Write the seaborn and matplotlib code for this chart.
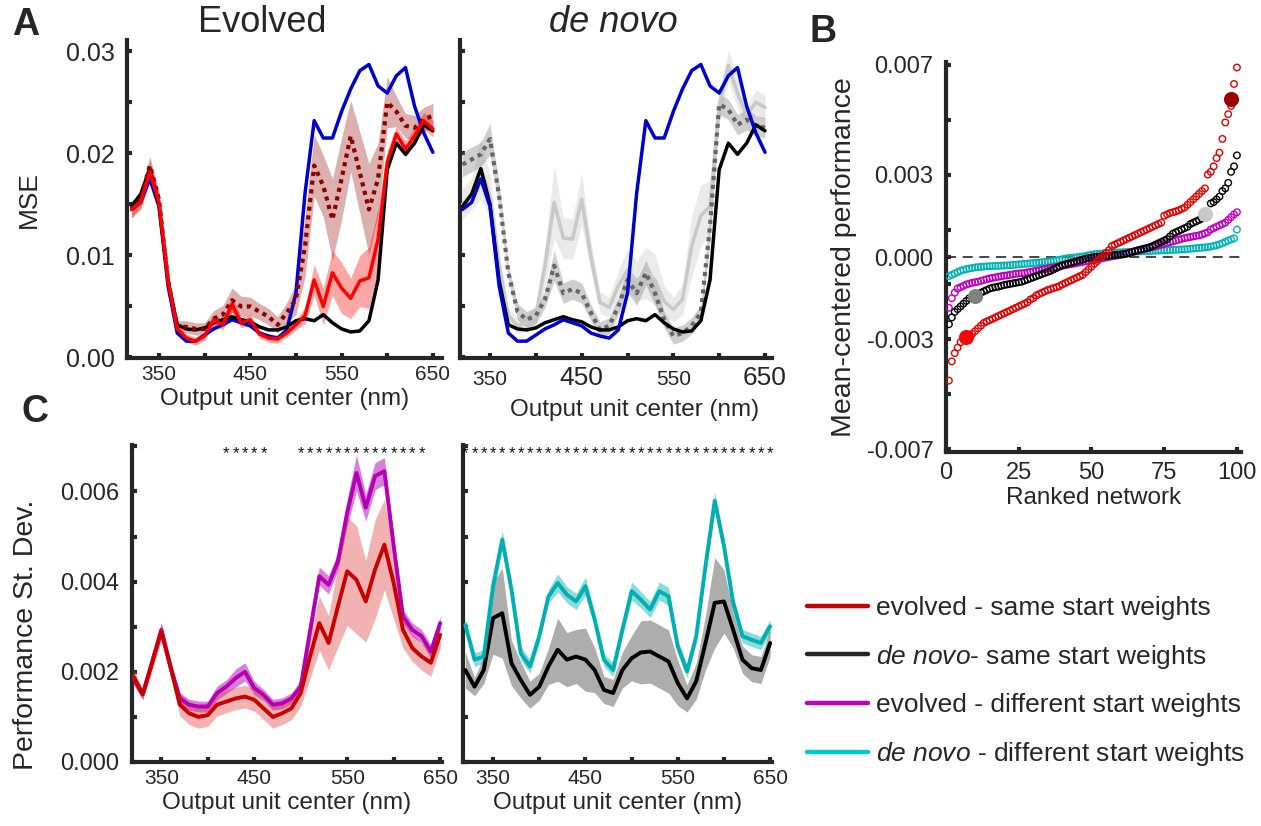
import numpy as np
import pandas as pd
import matplotlib
matplotlib.use("Agg")
import matplotlib.pyplot as plt
from matplotlib.lines import Line2D
import seaborn as sns

sns.set_theme(style="ticks")
plt.rcParams['font.family'] = ['Liberation Sans', 'DejaVu Sans']
plt.rcParams['mathtext.fontset'] = 'custom'
plt.rcParams['mathtext.rm'] = 'Liberation Sans'
plt.rcParams['mathtext.it'] = 'Liberation Sans:italic'

# ---------------- data ----------------
wl = np.arange(320, 651, 10)

# Panel A (MSE)
blue_mse = [0.0145, 0.0152, 0.0175, 0.0148, 0.0070, 0.0024, 0.0016, 0.0016, 0.0022, 0.0028,
            0.0032, 0.0037, 0.0034, 0.0031, 0.0024, 0.0021, 0.0019, 0.0027, 0.0063, 0.0161,
            0.0232, 0.0215, 0.0215, 0.0241, 0.0263, 0.0281, 0.0287, 0.0266, 0.0259, 0.0276,
            0.0284, 0.0246, 0.0220, 0.0201]
black_mse = [0.0148, 0.0160, 0.0185, 0.0150, 0.0075, 0.0032, 0.0028, 0.0027, 0.0029, 0.0034,
             0.0037, 0.0040, 0.0037, 0.0035, 0.0030, 0.0027, 0.0027, 0.0030, 0.0036, 0.0038,
             0.0036, 0.0042, 0.0034, 0.0028, 0.0025, 0.0026, 0.0036, 0.0076, 0.0184, 0.0210,
             0.0199, 0.0210, 0.0228, 0.0222]
evo_low = [0.0145, 0.0152, 0.0182, 0.0152, 0.0075, 0.0028, 0.0019, 0.0016, 0.0021, 0.0037,
           0.0032, 0.0052, 0.0034, 0.0037, 0.0023, 0.0019, 0.0018, 0.0024, 0.0032, 0.0041,
           0.0076, 0.0050, 0.0083, 0.0068, 0.0058, 0.0075, 0.0078, 0.0116, 0.0191, 0.0219,
           0.0204, 0.0217, 0.0232, 0.0224]
evo_low_err = [0.0008, 0.0007, 0.0010, 0.0008, 0.0005, 0.0004, 0.0004, 0.0004, 0.0004, 0.0005,
               0.0005, 0.0008, 0.0005, 0.0005, 0.0004, 0.0004, 0.0004, 0.0004, 0.0005, 0.0008,
               0.0015, 0.0018, 0.0022, 0.0025, 0.0020, 0.0025, 0.0030, 0.0030, 0.0012, 0.0007,
               0.0008, 0.0008, 0.0008, 0.0008]
evo_high = [0.0145, 0.0155, 0.0188, 0.0155, 0.0075, 0.0030, 0.0030, 0.0028, 0.0028, 0.0038,
            0.0042, 0.0056, 0.0050, 0.0050, 0.0045, 0.0040, 0.0032, 0.0044, 0.0057, 0.0109,
            0.0188, 0.0168, 0.0135, 0.0175, 0.0217, 0.0181, 0.0145, 0.0175, 0.0250, 0.0241,
            0.0227, 0.0225, 0.0233, 0.0237]
evo_high_err = [0.0008, 0.0008, 0.0009, 0.0008, 0.0005, 0.0006, 0.0006, 0.0006, 0.0006, 0.0008,
                0.0009, 0.0012, 0.0010, 0.0009, 0.0008, 0.0008, 0.0008, 0.0010, 0.0015, 0.0030,
                0.0030, 0.0030, 0.0040, 0.0040, 0.0035, 0.0040, 0.0045, 0.0035, 0.0025, 0.0015,
                0.0012, 0.0012, 0.0012, 0.0012]
dn_high = [0.0150, 0.0160, 0.0185, 0.0158, 0.0090, 0.0041, 0.0031, 0.0034, 0.0041, 0.0090,
           0.0152, 0.0117, 0.0116, 0.0155, 0.0099, 0.0054, 0.0049, 0.0070, 0.0086, 0.0075,
           0.0083, 0.0076, 0.0055, 0.0047, 0.0057, 0.0109, 0.0139, 0.0148, 0.0246, 0.0286,
           0.0259, 0.0237, 0.0250, 0.0245]
dn_high_err = [0.0015, 0.0015, 0.0030, 0.0020, 0.0015, 0.0008, 0.0008, 0.0008, 0.0010, 0.0020,
               0.0035, 0.0020, 0.0020, 0.0025, 0.0015, 0.0010, 0.0010, 0.0015, 0.0020, 0.0020,
               0.0025, 0.0025, 0.0015, 0.0012, 0.0015, 0.0030, 0.0030, 0.0025, 0.0015, 0.0015,
               0.0015, 0.0010, 0.0012, 0.0012]
dn_low = [0.0189, 0.0194, 0.0199, 0.0214, 0.0158, 0.0083, 0.0045, 0.0037, 0.0041, 0.0057,
          0.0090, 0.0063, 0.0067, 0.0063, 0.0044, 0.0027, 0.0031, 0.0050, 0.0076, 0.0063,
          0.0083, 0.0063, 0.0037, 0.0021, 0.0024, 0.0031, 0.0044, 0.0129, 0.0248, 0.0243,
          0.0228, 0.0233, 0.0227, 0.0225]
dn_low_err = [0.0012, 0.0012, 0.0012, 0.0015, 0.0012, 0.0008, 0.0008, 0.0008, 0.0008, 0.0008,
              0.0015, 0.0010, 0.0010, 0.0010, 0.0008, 0.0008, 0.0008, 0.0008, 0.0012, 0.0012,
              0.0012, 0.0012, 0.0008, 0.0008, 0.0008, 0.0008, 0.0008, 0.0015, 0.0010, 0.0010,
              0.0010, 0.0010, 0.0010, 0.0010]

# Panel B (mean-centered performance, units of 1e-4), ranks 1..100
rank = np.arange(1, 101)
red_b = [-45, -38, -35, -33, -31, -30, -29, -28.5, -28, -27,
         -26, -25, -24, -23.5, -23, -22.5, -22, -21.5, -21, -20.5,
         -20, -19.5, -19, -18.5, -18, -17.5, -17, -16.5, -15.5, -15,
         -14, -13.5, -13, -12.5, -12, -11.7, -11.3, -11, -10.6, -10,
         -9.5, -9, -8.5, -8, -7.5, -7, -6.5, -5.5, -4.5, -3.5,
         -2.5, -1.5, -0.5, 0.5, 1.5, 2.5, 4, 4.5, 5, 5.5,
         6, 6.5, 7, 7.5, 8, 8.5, 9, 9.5, 10, 10.5,
         11, 11.5, 12, 12.5, 15, 15.5, 16, 16.3, 16.6, 17,
         17.5, 18, 19, 20, 21, 22, 23, 24, 25, 30,
         31, 33, 36, 38, 43, 49, 52, 55, 63, 69]
black_b = [-24.5, -22, -20, -19, -18, -17, -16, -15, -14.5, -14,
           -13.5, -13, -12.5, -12, -11.5, -11.2, -11, -10.8, -10.5, -10.2,
           -10, -9.8, -9.6, -9.4, -9.2, -9, -8.6, -8.2, -7.8, -7.4,
           -7, -6.6, -6.2, -5.8, -5.4, -5, -4.5, -4, -3.5, -3,
           -2.7, -2.4, -2.1, -1.8, -1.5, -1.2, -0.9, -0.6, -0.4, -0.2,
           0, 0.1, 0.2, 0.3, 0.4, 0.5, 0.6, 0.7, 0.8, 0.9,
           1.0, 1.2, 1.5, 1.8, 2.1, 2.4, 2.7, 3.0, 3.3, 3.6,
           4.0, 4.5, 5.0, 5.5, 6.0, 6.5, 7.5, 8.5, 9.0, 9.5,
           10, 10.5, 11, 12, 12.5, 13, 13.5, 14, 14.5, 15,
           19.5, 20, 21, 22, 24, 25, 27, 31, 33, 37]
mag_b = [-18.5, -15, -13, -11.5, -11, -10.5, -10, -9.7, -9.4, -9.2,
         -9, -8.7, -8.4, -8.1, -7.8, -7.6, -7.4, -7.2, -7.0, -6.8,
         -6.7, -6.5, -6.3, -6.1, -6.0, -5.9, -5.8, -5.6, -5.4, -5.2,
         -5.0, -4.8, -4.6, -4.4, -4.2, -4.0, -3.8, -3.6, -3.4, -3.2,
         -3.0, -2.8, -2.6, -2.4, -2.2, -2.0, -1.8, -1.6, -1.4, -1.2,
         -1.0, -0.8, -0.6, -0.4, -0.2, 0, 0.2, 0.4, 0.6, 0.8,
         1.0, 1.3, 1.6, 1.9, 2.2, 2.5, 2.7, 2.9, 3.1, 3.3,
         3.6, 3.9, 4.2, 4.5, 4.8, 5.1, 5.4, 5.7, 6.0, 6.3,
         6.6, 6.9, 7.1, 7.3, 7.5, 7.7, 7.9, 8.2, 8.6, 9.0,
         10.0, 10.5, 11.0, 11.5, 12.0, 12.5, 13.5, 14.5, 15.5, 16.3]
cyan_b = [-7.0, -6.5, -6.0, -5.5, -5.0, -4.7, -4.4, -4.2, -4.0, -3.8,
          -3.7, -3.6, -3.5, -3.4, -3.35, -3.3, -3.25, -3.2, -3.15, -3.1,
          -3.05, -3.0, -2.9, -2.8, -2.7, -2.6, -2.5, -2.4, -2.3, -2.2,
          -2.1, -2.0, -1.9, -1.8, -1.7, -1.6, -1.4, -1.2, -1.0, -0.8,
          -0.6, -0.4, -0.3, -0.2, -0.1, 0.0, 0.2, 0.4, 0.6, 0.8,
          1.0, 1.1, 1.2, 1.3, 1.4, 1.5, 1.55, 1.6, 1.65, 1.7,
          1.75, 1.8, 1.85, 1.9, 1.95, 2.0, 2.05, 2.1, 2.15, 2.2,
          2.25, 2.3, 2.35, 2.4, 2.45, 2.5, 2.55, 2.6, 2.65, 2.7,
          2.75, 2.8, 2.9, 3.0, 3.1, 3.2, 3.3, 3.4, 3.5, 3.6,
          3.8, 4.0, 4.3, 4.6, 5.0, 5.5, 6.0, 6.4, 6.8, 10.0]
hl_rank = [7, 10, 89, 98]
hl_val = [-29.0, -14.3, 15.5, 57.6]
hl_color = ['#FF0000', '#808080', '#C8C8C8', '#990000']

# Panel C (performance st. dev.)
red_sd = [0.0019, 0.0015, 0.0022, 0.0029, 0.0021, 0.00127, 0.00108, 0.0010, 0.00104, 0.00127,
          0.00134, 0.00141, 0.00145, 0.00138, 0.00119, 0.0010, 0.00108, 0.00119, 0.00153, 0.00234,
          0.00308, 0.00264, 0.00345, 0.00423, 0.00404, 0.00356, 0.00427, 0.00482, 0.00397, 0.00293,
          0.00253, 0.00234, 0.0022, 0.00282]
red_sd_err = [0.0002, 0.0001, 0.0002, 0.0002, 0.0002, 0.00025, 0.00025, 0.00025, 0.00025, 0.00025,
              0.00025, 0.00025, 0.00025, 0.00025, 0.00025, 0.00025, 0.00025, 0.00025, 0.0003, 0.0005,
              0.0006, 0.0006, 0.0009, 0.0012, 0.0012, 0.0009, 0.0011, 0.0010, 0.0008, 0.0004,
              0.0003, 0.0003, 0.0003, 0.0003]
mag_sd = [0.00186, 0.0015, 0.0022, 0.00293, 0.0021, 0.00141, 0.00127, 0.00123, 0.00123, 0.00153,
          0.00167, 0.00186, 0.0020, 0.00164, 0.00149, 0.00127, 0.0013, 0.00141, 0.00167, 0.0029,
          0.00412, 0.00393, 0.00445, 0.00553, 0.00641, 0.00564, 0.00634, 0.00645, 0.0048, 0.00323,
          0.00293, 0.00279, 0.00245, 0.00308]
mag_sd_err = [0.00012, 0.00012, 0.00012, 0.00015, 0.00012, 0.00012, 0.00012, 0.00012, 0.00012, 0.00015,
              0.00015, 0.0002, 0.0002, 0.00015, 0.00012, 0.00012, 0.00012, 0.00012, 0.00015, 0.0002,
              0.0002, 0.0002, 0.0002, 0.0003, 0.0004, 0.0003, 0.0003, 0.0003, 0.0002, 0.00015,
              0.00015, 0.00015, 0.00015, 0.00015]
cyan_sd = [0.00304, 0.00227, 0.00234, 0.0039, 0.00493, 0.00382, 0.00241, 0.00212, 0.00279, 0.00367,
           0.00397, 0.00371, 0.00356, 0.0039, 0.00316, 0.00227, 0.00204, 0.00293, 0.00379, 0.0036,
           0.00338, 0.00379, 0.00367, 0.00256, 0.00201, 0.00279, 0.00434, 0.00579, 0.00479, 0.00353,
           0.00279, 0.00271, 0.00264, 0.00301]
cyan_sd_err = [0.00015, 0.00015, 0.00015, 0.00018, 0.0002, 0.00015, 0.00015, 0.00015, 0.00015, 0.00015,
               0.0002, 0.00018, 0.00018, 0.0002, 0.00015, 0.00015, 0.00015, 0.00015, 0.0002, 0.00018,
               0.00018, 0.0002, 0.0002, 0.00015, 0.00015, 0.00015, 0.00018, 0.0002, 0.00018, 0.00015,
               0.00015, 0.00015, 0.00015, 0.00015]
black_sd = [0.00204, 0.00167, 0.00204, 0.00319, 0.0033, 0.00219, 0.00182, 0.00149, 0.00167, 0.00212,
            0.00249, 0.00227, 0.00234, 0.00227, 0.00204, 0.0016, 0.00153, 0.00204, 0.0023, 0.00243,
            0.00245, 0.00234, 0.00223, 0.00175, 0.00141, 0.00179, 0.00264, 0.00353, 0.00356, 0.00293,
            0.00227, 0.00208, 0.00204, 0.00264]
black_sd_err = [0.0004, 0.0002, 0.0003, 0.0008, 0.0010, 0.0005, 0.0004, 0.0003, 0.0003, 0.0004,
                0.0007, 0.0006, 0.0006, 0.0007, 0.0005, 0.0003, 0.0003, 0.0004, 0.0005, 0.0007,
                0.0007, 0.0007, 0.0007, 0.0005, 0.0003, 0.0004, 0.0006, 0.0010, 0.0007, 0.0004,
                0.0003, 0.0003, 0.0003, 0.0003]
sig_left = [420, 430, 440, 450, 460, 500, 510, 520, 530, 540, 550, 560, 570, 580, 590, 600, 610, 620, 630]
sig_right = list(wl)

legend_labels = ['evolved - same start weights',
                 r'$\mathit{de\ novo}$- same start weights',
                 'evolved - different start weights',
                 r'$\mathit{de\ novo}$ - different start weights']
legend_colors = ['#C80000', '#262626', '#C000C0', '#00C8C8']

# ---------------- figure ----------------
W, H = 1261, 826
fig = plt.figure(figsize=(W / 100, H / 100), dpi=100)
fig.patch.set_facecolor('white')
SP = '#262626'


def add_ax(x0, y0, x1, y1):
    ax = fig.add_axes([x0 / W, 1 - y1 / H, (x1 - x0) / W, (y1 - y0) / H])
    ax.set_facecolor('none')
    for s in ['top', 'right']:
        ax.spines[s].set_visible(False)
    for s in ['left', 'bottom']:
        ax.spines[s].set_linewidth(3)
        ax.spines[s].set_color(SP)
    ax.tick_params(direction='in', length=3.5, width=3, color=SP, labelcolor='#262626')
    return ax


def line(ax, y, color, lw=2.5, ls='-', z=3):
    sns.lineplot(x=wl, y=np.asarray(y), ax=ax, color=color, linewidth=lw, linestyle=ls,
                 legend=False, errorbar=None, zorder=z)


def band(ax, y, e, color, alpha, z=1):
    y = np.asarray(y); e = np.asarray(e)
    ax.fill_between(wl, y - e, y + e, color=color, alpha=alpha, lw=0, zorder=z)


dotted = (0, (1, 1.1))

# ---- A left: Evolved ----
axA1 = add_ax(127, 40, 442, 358)
band(axA1, evo_high, evo_high_err, '#A01E1E', 0.35)
band(axA1, evo_low, evo_low_err, '#FF0000', 0.35)
line(axA1, blue_mse, '#0000CD')
line(axA1, black_mse, '#000000')
line(axA1, evo_high, '#8C0000', lw=3, ls=dotted)
line(axA1, evo_low, '#FF0000')

# ---- A right: de novo ----
axA2 = add_ax(460, 40, 772, 358)
band(axA2, dn_high, dn_high_err, '#BBBBBB', 0.3)
band(axA2, dn_low, dn_low_err, '#888888', 0.4)
line(axA2, dn_high, '#C8C8C8')
line(axA2, dn_low, '#666666', lw=3, ls=dotted)
line(axA2, black_mse, '#000000')
line(axA2, blue_mse, '#0000CD')

for ax, xl in [(axA1, (315, 660)), (axA2, (317.3, 657.6))]:
    ax.set_xlim(*xl)
    ax.set_ylim(-0.00005, 0.0311)
    ax.set_xticks(np.arange(350, 651, 50))
    ax.set_yticks(np.arange(0, 0.0301, 0.005))
    ax.set_ylabel('')
axA1.set_xlabel('Output unit center (nm)', fontsize=17.5, labelpad=3)
axA2.set_xlabel('Output unit center (nm)', fontsize=17.5)
axA2.xaxis.set_label_coords(0.56, -0.13)
axA1.set_xticklabels(['350', '', '450', '', '550', '', '650'], fontsize=15)
axA2.set_xticklabels(['350', '', '450', '', '550', '', '650'], fontsize=15)
axA1.set_yticklabels(['0.00', '', '0.01', '', '0.02', '', '0.03'], fontsize=18)
axA2.set_yticklabels([])
axA1.tick_params(axis='y', pad=9)
axA1.tick_params(axis='x', pad=5)
axA2.tick_params(axis='x', pad=19.5)
for lab, fs in zip(axA2.get_xticklabels(), [15, 15, 19, 15, 15, 15, 19]):
    lab.set_fontsize(fs)
    lab.set_verticalalignment('baseline')
axA1.set_ylabel('MSE', fontsize=19, labelpad=18)
axA1.set_title('Evolved', fontsize=26, pad=6, x=0.43)
axA2.set_title('de novo', fontsize=26, style='italic', pad=6, x=0.49)

# ---- B ----
axB = add_ax(946, 62, 1241, 452)
axB.axhline(0, color='#262626', lw=1.2, ls=(0, (6, 4)), zorder=1)
for vals, c in [(cyan_b, '#00B4B4'), (mag_b, '#C000C0'), (black_b, '#000000'), (red_b, '#E00000')]:
    sns.scatterplot(x=rank, y=np.asarray(vals) * 1e-4, ax=axB, s=22, marker='o',
                    color=c, legend=False, zorder=3)
    coll = axB.collections[-1]
    coll.set_facecolor('none')
    coll.set_edgecolor(c)
    coll.set_linewidth(1.0)
for r, v, c in zip(hl_rank, hl_val, hl_color):
    sns.scatterplot(x=[r], y=[v * 1e-4], ax=axB, s=100, color=c, edgecolor=c, legend=False, zorder=4)
axB.set_xlim(0.3, 101.4)
axB.set_ylim(-0.0071, 0.0071)
axB.set_xticks([0, 25, 50, 75, 100])
axB.set_xticklabels(['0', '25', '50', '75', '100'], fontsize=17)
yt = [-0.007, -0.005, -0.003, -0.001, 0.0, 0.001, 0.003, 0.005, 0.007]
axB.set_yticks(yt)
axB.set_yticklabels(['-0.007', '', '-0.003', '', '0.000', '', '0.003', '', '0.007'], fontsize=17)
axB.tick_params(axis='y', pad=9)
axB.tick_params(axis='x', pad=7)
axB.set_xlabel('Ranked network', fontsize=17.5, labelpad=2)
axB.set_ylabel('Mean-centered performance', fontsize=20.5, labelpad=7)

# ---- C left ----
axC1 = add_ax(132, 445, 442, 762)
band(axC1, mag_sd, mag_sd_err, '#B400B4', 0.5)
band(axC1, red_sd, red_sd_err, '#E04040', 0.4)
line(axC1, mag_sd, '#B400B4', lw=2.8)
line(axC1, red_sd, '#C80000', lw=2.8)

# ---- C right ----
axC2 = add_ax(463, 445, 772, 762)
band(axC2, black_sd, black_sd_err, '#999999', 0.8)
band(axC2, cyan_sd, cyan_sd_err, '#00B0B0', 0.45)
line(axC2, black_sd, '#000000', lw=2.8)
line(axC2, cyan_sd, '#00B0B0', lw=2.8)

for ax, xl, sig in [(axC1, (318.5, 652), sig_left), (axC2, (317.5, 652), sig_right)]:
    ax.set_xlim(*xl)
    ax.set_ylim(0, 0.00703)
    ax.set_xticks(np.arange(350, 651, 50))
    ax.set_xticklabels(['350', '', '450', '', '550', '', '650'], fontsize=15)
    ax.set_yticks(np.arange(0, 0.00701, 0.001))
    ax.set_xlabel('Output unit center (nm)', fontsize=17.5, labelpad=3)
    ax.set_ylabel('')
    ax.tick_params(axis='x', pad=5)
    for w in sig:
        ax.text(w, 0.00683, '*', ha='center', va='center', fontsize=12, color='#111111', clip_on=False)
axC1.set_yticklabels(['0.000', '', '0.002', '', '0.004', '', '0.006', ''], fontsize=17)
axC2.set_yticklabels([])
axC1.tick_params(axis='y', pad=9)
axC1.set_ylabel('Performance St. Dev.', fontsize=20.5, labelpad=10)
axC1.yaxis.set_label_coords(-0.30, 0.40)

# ---- legend ----
handles = [Line2D([], [], color=c, lw=3.2) for c in legend_colors]
fig.legend(handles, legend_labels, loc='upper left', bbox_to_anchor=(807 / W, 1 - 596 / H),
           frameon=False, fontsize=19, handlelength=2.3, handletextpad=0.3, labelspacing=0.86,
           borderaxespad=0, borderpad=0)

# ---- panel letters ----
for txt, x, y in [('A', 26, 25), ('B', 823, 32), ('C', 35, 412)]:
    fig.text(x / W, 1 - y / H, txt, fontsize=27, fontweight='bold', ha='center', va='center')

fig.savefig('out.png', dpi=100, facecolor='white')
